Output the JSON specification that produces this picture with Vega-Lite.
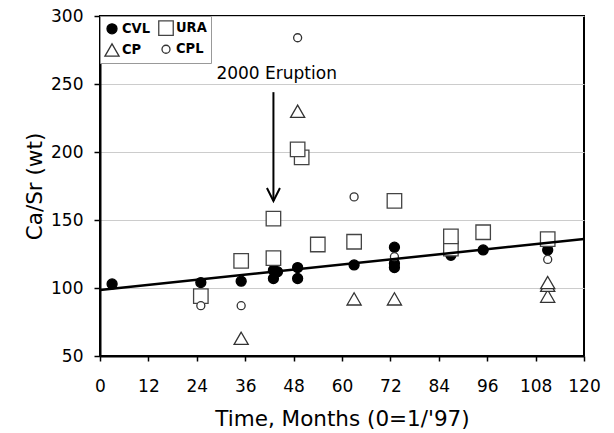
{
  "$schema": "https://vega.github.io/schema/vega-lite/v6.json",
  "width": 484,
  "height": 340,
  "autosize": {"type": "none"},
  "padding": {"left": 100, "top": 16, "right": 30, "bottom": 77},
  "background": "white",
  "config": {
    "font": "DejaVu Sans",
    "view": {"stroke": "black", "strokeWidth": 2},
    "axis": {
      "domainColor": "black", "domainWidth": 2,
      "tickColor": "black", "tickWidth": 1.5,
      "labelColor": "black", "labelFont": "DejaVu Sans", "labelFontSize": 17,
      "titleFont": "DejaVu Sans", "titleFontSize": 21.5, "titleFontWeight": "normal", "titleColor": "black",
      "gridColor": "#cccccc", "gridWidth": 1
    },
    "legend": {
      "orient": "top-left", "offset": 0, "columns": 2, "padding": 4,
      "strokeColor": "#999999", "fillColor": "white",
      "labelFont": "DejaVu Sans Condensed", "labelFontSize": 14.5, "labelFontWeight": "bold", "labelColor": "black",
      "columnPadding": 6, "rowPadding": 3, "symbolStrokeWidth": 1.3, "labelOffset": 2
    }
  },
  "datasets": {
    "pts": [
      {"t": 3, "v": 103, "s": "CVL"},
      {"t": 25, "v": 104, "s": "CVL"},
      {"t": 35, "v": 105, "s": "CVL"},
      {"t": 43, "v": 113, "s": "CVL"},
      {"t": 43, "v": 107, "s": "CVL"},
      {"t": 44, "v": 112, "s": "CVL"},
      {"t": 49, "v": 115, "s": "CVL"},
      {"t": 49, "v": 107, "s": "CVL"},
      {"t": 63, "v": 117, "s": "CVL"},
      {"t": 73, "v": 130, "s": "CVL"},
      {"t": 73, "v": 118, "s": "CVL"},
      {"t": 73, "v": 115, "s": "CVL"},
      {"t": 87, "v": 124, "s": "CVL"},
      {"t": 95, "v": 128, "s": "CVL"},
      {"t": 111, "v": 128, "s": "CVL"},
      {"t": 25, "v": 94, "s": "URA"},
      {"t": 35, "v": 120, "s": "URA"},
      {"t": 43, "v": 122, "s": "URA"},
      {"t": 43, "v": 151, "s": "URA"},
      {"t": 50, "v": 196, "s": "URA"},
      {"t": 49, "v": 202, "s": "URA"},
      {"t": 54, "v": 132, "s": "URA"},
      {"t": 63, "v": 134, "s": "URA"},
      {"t": 73, "v": 164, "s": "URA"},
      {"t": 87, "v": 129, "s": "URA"},
      {"t": 87, "v": 138, "s": "URA"},
      {"t": 95, "v": 141, "s": "URA"},
      {"t": 111, "v": 136, "s": "URA"},
      {"t": 35, "v": 63, "s": "CP"},
      {"t": 49, "v": 230, "s": "CP"},
      {"t": 63, "v": 92, "s": "CP"},
      {"t": 73, "v": 92, "s": "CP"},
      {"t": 111, "v": 94, "s": "CP"},
      {"t": 111, "v": 102, "s": "CP"},
      {"t": 111, "v": 104, "s": "CP"},
      {"t": 25, "v": 87, "s": "CPL"},
      {"t": 35, "v": 87, "s": "CPL"},
      {"t": 49, "v": 284, "s": "CPL"},
      {"t": 63, "v": 167, "s": "CPL"},
      {"t": 73, "v": 123, "s": "CPL"},
      {"t": 111, "v": 121, "s": "CPL"}
    ],
    "fit": [{"t": 0, "v": 98.5}, {"t": 120, "v": 136}],
    "arrow": [{"t": 43, "v1": 244, "v2": 164}],
    "head": [{"t": 43, "v": 164}],
    "label": [{"t": 43.8, "v": 257, "txt": "2000 Eruption"}]
  },
  "layer": [
    {
      "data": {"name": "pts"},
      "mark": {"type": "point", "filled": false, "strokeWidth": 1.3, "opacity": 1},
      "encoding": {
        "x": {"field": "t", "type": "quantitative",
              "scale": {"domain": [0, 120], "nice": false, "zero": false},
              "axis": {"title": "Time, Months (0=1/'97)", "values": [0,6,12,18,24,30,36,42,48,54,60,66,72,78,84,90,96,102,108,114,120],
                       "labelExpr": "datum.value % 12 === 0 ? datum.label : ''", "grid": false, "tickSize": 5, "labelPadding": 17, "titlePadding": 14, "labelFlush": false}},
        "y": {"field": "v", "type": "quantitative",
              "scale": {"domain": [50, 300], "nice": false, "zero": false},
              "axis": {"title": "Ca/Sr (wt)", "values": [50,100,150,200,250,300], "grid": true, "tickSize": 6, "labelPadding": 11, "titlePadding": 4}},
        "shape": {"field": "s", "type": "nominal", "title": null,
                  "scale": {"domain": ["CVL", "CP", "URA", "CPL"], "range": ["circle", "triangle-up", "square", "circle"]}},
        "fill": {"field": "s", "type": "nominal", "title": null,
                 "scale": {"domain": ["CVL", "CP", "URA", "CPL"], "range": ["black", "white", "white", "white"]}},
        "stroke": {"field": "s", "type": "nominal", "title": null,
                   "scale": {"domain": ["CVL", "CP", "URA", "CPL"], "range": ["black", "#333333", "#444444", "#333333"]}},
        "size": {"field": "s", "type": "nominal", "title": null,
                 "scale": {"type": "ordinal", "domain": ["CVL", "CP", "URA", "CPL"], "range": [100, 200, 210, 64]}}
      }
    },
    {
      "data": {"name": "fit"},
      "mark": {"type": "line", "color": "black", "strokeWidth": 2.5},
      "encoding": {
        "x": {"field": "t", "type": "quantitative"},
        "y": {"field": "v", "type": "quantitative"}
      }
    },
    {
      "data": {"name": "arrow"},
      "mark": {"type": "rule", "color": "black", "strokeWidth": 2},
      "encoding": {
        "x": {"field": "t", "type": "quantitative"},
        "y": {"field": "v1", "type": "quantitative"},
        "y2": {"field": "v2"}
      }
    },
    {
      "data": {"name": "head"},
      "mark": {"type": "point", "shape": "M-1,-2L0,0L1,-2", "filled": false, "stroke": "black", "strokeWidth": 2, "size": 169, "opacity": 1},
      "encoding": {
        "x": {"field": "t", "type": "quantitative"},
        "y": {"field": "v", "type": "quantitative"}
      }
    },
    {
      "data": {"name": "label"},
      "mark": {"type": "text", "font": "DejaVu Sans", "fontSize": 17, "color": "black", "align": "center", "baseline": "middle"},
      "encoding": {
        "x": {"field": "t", "type": "quantitative"},
        "y": {"field": "v", "type": "quantitative"},
        "text": {"field": "txt"}
      }
    }
  ]
}
